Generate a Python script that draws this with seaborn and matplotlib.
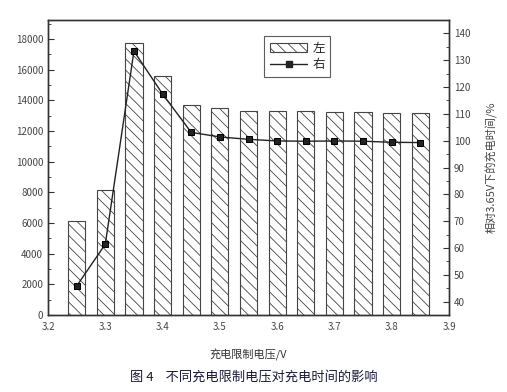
import pandas as pd
import matplotlib
matplotlib.use('Agg')
import matplotlib.pyplot as plt
import seaborn as sns
from matplotlib.patches import Patch
from matplotlib.lines import Line2D
from matplotlib.ticker import MultipleLocator

# data
voltage = [3.25, 3.30, 3.35, 3.40, 3.45, 3.50, 3.55, 3.60, 3.65, 3.70, 3.75, 3.80, 3.85]
charge_time = [6130, 8150, 17760, 15610, 13700, 13480, 13330, 13320, 13290, 13270, 13260, 13210, 13200]
relative_pct = [45.8, 61.4, 133.4, 117.4, 103.1, 101.4, 100.5, 99.9, 99.8, 99.9, 99.8, 99.4, 99.3]

df = pd.DataFrame({'voltage': voltage, 'time': charge_time, 'pct': relative_pct})

sns.set_theme(style='white')
plt.rcParams['font.family'] = ['Noto Sans CJK SC', 'DejaVu Sans']
plt.rcParams['hatch.linewidth'] = 0.6
plt.rcParams['axes.unicode_minus'] = False

fig = plt.figure(figsize=(5.07, 3.92), dpi=100)
ax = fig.add_axes([0.0947, 0.1964, 0.7909, 0.7526])

sns.barplot(data=df, x='voltage', y='time', native_scale=True, width=0.6,
            color='white', edgecolor='#444444', linewidth=0.8, ax=ax)
for bar in ax.patches:
    bar.set_hatch('\\\\\\')
    bar.set_facecolor('white')

ax.set_xlim(3.2, 3.9)
ax.set_ylim(0, 19250)
ax.xaxis.set_major_locator(MultipleLocator(0.1))
ax.xaxis.set_minor_locator(MultipleLocator(0.05))
ax.yaxis.set_major_locator(MultipleLocator(2000))
ax.yaxis.set_minor_locator(MultipleLocator(1000))
ax.xaxis.set_major_formatter(matplotlib.ticker.FormatStrFormatter('%.1f'))
ax.tick_params(axis='both', which='major', direction='in', length=4, width=0.8,
               labelsize=7, colors='#333333', labelcolor='#444444')
ax.tick_params(axis='both', which='minor', direction='in', length=2, width=0.6,
               colors='#333333')
ax.tick_params(axis='x', pad=5)
ax.set_xlabel('充电限制电压/V', fontsize=8, color='#333333', labelpad=12)
ax.set_ylabel('')

ax2 = ax.twinx()
sns.lineplot(data=df, x='voltage', y='pct', marker='s', markersize=4.5,
             color='#222222', linewidth=1.0, markeredgecolor='black', ax=ax2)
ax2.set_ylim(35, 145)
ax2.yaxis.set_major_locator(MultipleLocator(10))
ax2.yaxis.set_minor_locator(MultipleLocator(5))
ax2.tick_params(axis='y', which='major', direction='in', length=4, width=0.8,
                labelsize=7, colors='#333333', labelcolor='#444444')
ax2.tick_params(axis='y', which='minor', direction='in', length=2, width=0.6,
                colors='#333333')
ax2.set_ylabel('相对3.65V下的充电时间/%', fontsize=8, color='#444444', labelpad=11)
ax2.set_xlabel('')

for a in (ax, ax2):
    for s in a.spines.values():
        s.set_color('#333333')
        s.set_linewidth(1.0)

handles = [Patch(facecolor='white', edgecolor='#444444', hatch='\\\\\\', linewidth=0.8),
           Line2D([0], [0], color='#222222', marker='s', markersize=4.5, linewidth=1.0)]
leg = ax2.legend(handles, ['左', '右'], loc='upper left', bbox_to_anchor=(0.539, 0.946),
                 borderaxespad=0, fontsize=9, frameon=True, fancybox=False,
                 edgecolor='#333333', handlelength=3.0, borderpad=0.45,
                 labelspacing=0.3, handletextpad=0.4)
leg.get_frame().set_linewidth(0.8)

fig.text(0.5, 0.035, '图 4    不同充电限制电压对充电时间的影响', ha='center', va='center',
         fontsize=9.5, color='#1a1a3a')

fig.savefig('out.png', dpi=100)
